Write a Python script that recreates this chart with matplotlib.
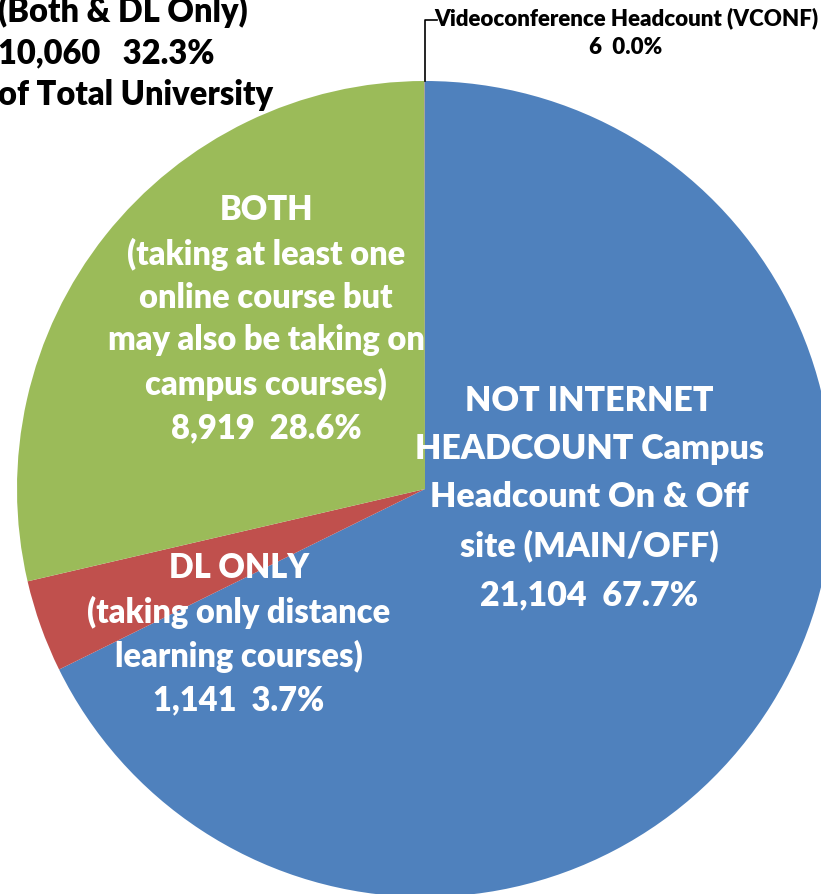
import matplotlib
matplotlib.use("Agg")
import matplotlib.pyplot as plt

# headcount by delivery type (clockwise from 12 o'clock)
categories = ["NOT INTERNET", "DL ONLY", "BOTH", "VCONF"]
headcount = [21104, 1141, 8919, 6]
percents = ["67.7%", "3.7%", "28.6%", "0.0%"]
colors = ["#4F81BD", "#C0504D", "#9BBB59", "#8064A2"]

W, H = 821, 895
CX, CY, R = 425, 490, 408
WEIGHT = "heavy"


def px(x, y):
    """pixel position in the image -> data coords of the pie"""
    return (x - CX) / R, (CY - y) / R


plt.rcParams["font.family"] = ["Lato", "DejaVu Sans"]
plt.rcParams["font.weight"] = "bold"

fig = plt.figure(figsize=(W / 100, H / 100), dpi=100)
ax = fig.add_axes([0, 0, 1, 1])
ax.pie(headcount, colors=colors, startangle=90, counterclock=False,
       radius=1.0, wedgeprops=dict(linewidth=0))
ax.set_xlim(-CX / R, (W - CX) / R)
ax.set_ylim(-(H - CY) / R, CY / R)
ax.set_aspect("auto")
ax.axis("off")

lbl_main = "NOT INTERNET\nHEADCOUNT Campus\nHeadcount On & Off\nsite (MAIN/OFF)\n{:,}  {}".format(headcount[0], percents[0])
lbl_dl = "DL ONLY\n(taking only distance\nlearning courses)\n{:,}  {}".format(headcount[1], percents[1])
lbl_both = ("BOTH\n(taking at least one\nonline course but\nmay also be taking on\ncampus courses)\n"
            "{:,}  {}".format(headcount[2], percents[2]))

ax.text(*px(589, 498), lbl_main, color="white", fontsize=24.5, fontweight=WEIGHT,
        ha="center", va="center", linespacing=1.62)
ax.text(*px(239, 634), lbl_dl, color="white", fontsize=23.5, fontweight=WEIGHT,
        ha="center", va="center", linespacing=1.42)
ax.text(*px(266, 319), lbl_both, color="white", fontsize=23.5, fontweight=WEIGHT,
        ha="center", va="center", linespacing=1.42)

# total online text, top left (partly cut by the frame, as in the source)
ax.text(*px(-2, 53), "(Both & DL Only)\n{:,}   {}\nof Total University".format(
        headcount[1] + headcount[2], "32.3%"),
        color="black", fontsize=23.5, fontweight=WEIGHT, ha="left", va="center",
        linespacing=1.35)

# videoconference label with leader line
ax.plot(*zip(px(425, 82), px(425, 21), px(437, 21)), color="black", lw=1.2)
ax.text(*px(626, 33), "Videoconference Headcount (VCONF)\n{}  {}".format(headcount[3], percents[3]),
        color="black", fontsize=16, fontweight=WEIGHT, ha="center", va="center",
        linespacing=1.45)

fig.savefig("out.png", dpi=100)
